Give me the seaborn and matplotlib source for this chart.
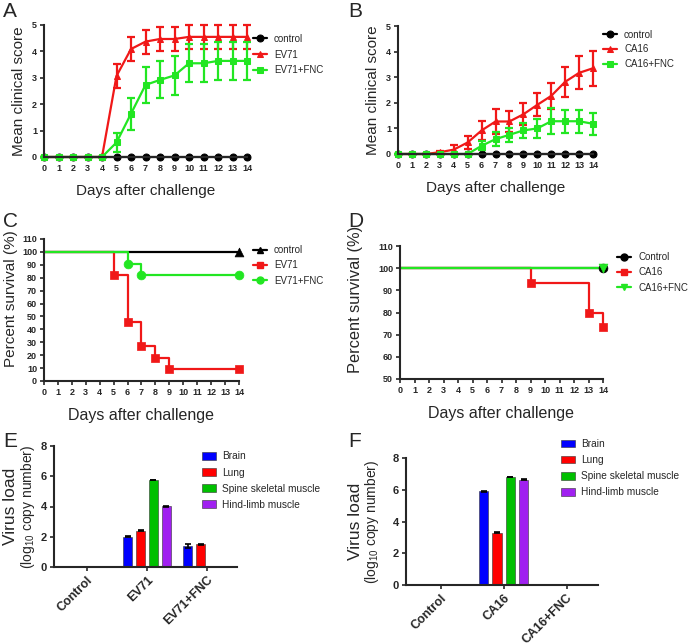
import matplotlib
matplotlib.use('Agg')
import matplotlib.pyplot as plt
import seaborn as sns
import pandas as pd

# ---- data ----
days = list(range(15))

# A : clinical score EV71
a_control = [0] * 15
a_ev71 = [0, 0, 0, 0, 0, 3.07, 4.09, 4.37, 4.47, 4.47, 4.55, 4.55, 4.55, 4.55, 4.55]
a_ev71_err = [0, 0, 0, 0, 0, 0.44, 0.46, 0.45, 0.47, 0.47, 0.46, 0.46, 0.46, 0.46, 0.46]
a_fnc = [0, 0, 0, 0, 0, 0.55, 1.64, 2.73, 2.92, 3.09, 3.55, 3.55, 3.64, 3.64, 3.64]
a_fnc_err = [0, 0, 0, 0, 0, 0.36, 0.6, 0.67, 0.7, 0.75, 0.72, 0.72, 0.72, 0.72, 0.72]

# B : clinical score CA16
b_control = [0] * 15
b_ca16 = [0, 0, 0, 0.07, 0.17, 0.45, 0.92, 1.27, 1.27, 1.55, 1.92, 2.27, 2.82, 3.17, 3.35]
b_ca16_err = [0, 0, 0, 0.05, 0.18, 0.26, 0.37, 0.5, 0.4, 0.43, 0.45, 0.5, 0.58, 0.65, 0.68]
b_fnc = [0, 0, 0, 0, 0, 0, 0.32, 0.58, 0.75, 0.92, 1.0, 1.28, 1.28, 1.28, 1.18]
b_fnc_err = [0, 0, 0, 0, 0, 0, 0.17, 0.27, 0.28, 0.3, 0.38, 0.5, 0.45, 0.45, 0.44]

# C : survival EV71
c_ctrl_t = [0, 14]
c_ctrl_s = [100, 100]
c_ev71_t = [0, 5, 6, 7, 8, 9, 14]
c_ev71_s = [100, 81.8, 45.5, 27.3, 18.2, 9.1, 9.1]
c_fnc_t = [0, 6, 7, 14]
c_fnc_s = [100, 90.9, 81.8, 81.8]

# D : survival CA16
d_ctrl_t = [0, 14]
d_ctrl_s = [100, 100]
d_ca16_t = [0, 9, 13, 14]
d_ca16_s = [100, 93.3, 80, 73.3]
d_fnc_t = [0, 14]
d_fnc_s = [100, 100]

# E / F : virus load
tissues = ['Brain', 'Lung', 'Spine skeletal muscle', 'Hind-limb muscle']
e_groups = ['Control', 'EV71', 'EV71+FNC']
e_vals = [[0, 0, 0, 0], [2.0, 2.4, 5.75, 4.03], [1.41, 1.5, 0, 0]]
e_errs = [[0, 0, 0, 0], [0.03, 0.03, 0.03, 0.03], [0.13, 0.05, 0, 0]]
f_groups = ['Control', 'CA16', 'CA16+FNC']
f_vals = [[0, 0, 0, 0], [5.9, 3.28, 6.78, 6.62], [0, 0, 0, 0]]
f_errs = [[0, 0, 0, 0], [0.03, 0.03, 0.0, 0.03], [0, 0, 0, 0]]

RED = '#f01818'
GREEN = '#22e622'
BAR_COLORS = ['#0000ff', '#ff0000', '#00c000', '#a020f0']

sns.set_style('ticks')
plt.rcParams['font.family'] = ['Liberation Sans', 'DejaVu Sans']
plt.rcParams['mathtext.fontset'] = 'custom'
plt.rcParams['mathtext.rm'] = 'Liberation Sans'

fig = plt.figure(figsize=(6.96, 6.44), dpi=100)
W, H = 696, 644


def add_ax(l, r, t, b):
    return fig.add_axes([l / W, 1 - b / H, (r - l) / W, (b - t) / H])


def style_ax(ax):
    sns.despine(ax=ax)
    for s in ['left', 'bottom']:
        ax.spines[s].set_linewidth(1.5)
    ax.tick_params(width=1.2, length=3, labelsize=6.5, pad=2)
    for lab in ax.get_xticklabels() + ax.get_yticklabels():
        lab.set_fontweight('bold')


def line_legend(ax, anchor, spacing):
    ax.legend(frameon=False, loc='upper left', bbox_to_anchor=anchor,
              fontsize=7, handlelength=1.5, handletextpad=0.7, labelspacing=spacing)


def score_panel(ax, series, ylabel, anchor, spacing):
    for y, err, color, marker, label in series:
        sns.lineplot(x=days, y=y, color=color, marker=marker, markersize=5,
                     markeredgecolor=color, lw=1.6, label=label, ax=ax, clip_on=False)
        if err is not None:
            ax.errorbar(days, y, yerr=err, fmt='none', ecolor=color, elinewidth=1.6,
                        capsize=3, capthick=1.6, clip_on=False)
    ax.set_xlim(0, 14)
    ax.set_ylim(0, 5)
    ax.set_xticks(days)
    ax.set_yticks(range(6))
    ax.set_xlabel('Days after challenge', fontsize=11, labelpad=8)
    ax.set_ylabel(ylabel, fontsize=11)
    line_legend(ax, anchor, spacing)
    style_ax(ax)


def surv_panel(ax, series, ylim, yticks, anchor, ylsize, ylpos):
    for t, s, color, marker, label in series:
        sns.lineplot(x=t, y=s, color=color, drawstyle='steps-post', lw=1.6,
                     ax=ax, clip_on=False)
        sns.scatterplot(x=t[1:], y=s[1:], color=color, marker=marker, s=40,
                        edgecolor=color, ax=ax, clip_on=False, zorder=3)
        ax.plot([], [], color=color, marker=marker, lw=1.6, markersize=5, label=label)
    ax.set_xlim(0, 14)
    ax.set_ylim(*ylim)
    ax.set_xticks(days)
    ax.set_yticks(yticks)
    ax.set_xlabel('Days after challenge', fontsize=11.5, labelpad=8)
    ax.set_ylabel('Percent survival (%)', fontsize=ylsize)
    ax.yaxis.set_label_coords(*ylpos)
    line_legend(ax, anchor, 0.55)
    style_ax(ax)


def bar_panel(ax, groups, vals, errs, legend_anchor, lab_x):
    df = pd.DataFrame([(g, t, vals[i][j]) for i, g in enumerate(groups)
                       for j, t in enumerate(tissues)], columns=['group', 'tissue', 'load'])
    sns.barplot(data=df, x='group', y='load', hue='tissue', palette=BAR_COLORS,
                saturation=1, width=0.85, gap=0.3, errorbar=None, ax=ax,
                edgecolor='#333333', linewidth=0.4)
    bar_conts = list(ax.containers)
    for j, cont in enumerate(bar_conts):
        for i, bar in enumerate(cont):
            if vals[i][j] > 0:
                ax.errorbar(bar.get_x() + bar.get_width() / 2, vals[i][j], yerr=errs[i][j],
                            fmt='none', ecolor='black', elinewidth=1.2, capsize=2.5,
                            capthick=1.2)
    ax.set_ylim(0, 8)
    ax.set_yticks([0, 2, 4, 6, 8])
    ax.set_xlim(-0.55, 2.5)
    ax.set_xlabel('')
    ax.set_ylabel('')
    ax.text(lab_x[0], 0.5, 'Virus load', transform=ax.transAxes, rotation=90,
            fontsize=12.5, ha='center', va='center')
    ax.text(lab_x[1], 0.5, '(log$_{10}$ copy number)', transform=ax.transAxes, rotation=90,
            fontsize=10, ha='center', va='center')
    ax.legend(frameon=False, loc='upper left', bbox_to_anchor=legend_anchor,
              fontsize=7.3, handlelength=1.4, handleheight=0.75, handletextpad=0.6,
              labelspacing=0.6)
    style_ax(ax)
    ax.tick_params(axis='y', labelsize=8)
    ax.tick_params(axis='x', labelsize=9)
    for lab in ax.get_xticklabels():
        lab.set_rotation(45)
        lab.set_ha('right')
        lab.set_rotation_mode('anchor')


axA = add_ax(44, 247, 25, 157)
score_panel(axA, [(a_control, None, 'black', 'o', 'control'),
                  (a_ev71, a_ev71_err, RED, '^', 'EV71'),
                  (a_fnc, a_fnc_err, GREEN, 's', 'EV71+FNC')], 'Mean clinical score',
            (0.985, 1.0), 0.6)

axB = add_ax(398, 593, 26, 154)
score_panel(axB, [(b_control, None, 'black', 'o', 'control'),
                  (b_ca16, b_ca16_err, RED, '^', 'CA16'),
                  (b_fnc, b_fnc_err, GREEN, 's', 'CA16+FNC')], 'Mean clinical score',
            (1.005, 1.04), 0.5)

axC = add_ax(44, 239, 239, 381)
surv_panel(axC, [(c_ctrl_t, c_ctrl_s, 'black', '^', 'control'),
                 (c_ev71_t, c_ev71_s, RED, 's', 'EV71'),
                 (c_fnc_t, c_fnc_s, GREEN, 'o', 'EV71+FNC')], (0, 110), range(0, 111, 10),
           (1.025, 1.02), 11, (-0.135, 0.58))

axD = add_ax(400, 603, 246, 379)
surv_panel(axD, [(d_ctrl_t, d_ctrl_s, 'black', 'o', 'Control'),
                 (d_ca16_t, d_ca16_s, RED, 's', 'CA16'),
                 (d_fnc_t, d_fnc_s, GREEN, 'v', 'CA16+FNC')], (50, 110), range(50, 111, 10),
           (1.025, 1.02), 11.8, (-0.18, 0.6))

axE = add_ax(54, 237, 446, 567)
bar_panel(axE, e_groups, e_vals, e_errs, (0.76, 1.03), (-0.235, -0.14))

axF = add_ax(406, 598, 458, 585)
bar_panel(axF, f_groups, f_vals, f_errs, (0.76, 1.22), (-0.265, -0.175))

for letter, x, y in [('A', 3, 2), ('B', 348, 2), ('C', 3, 212), ('D', 348, 212),
                     ('E', 3, 432), ('F', 348, 432)]:
    fig.text(x / W, 1 - y / H, letter, fontsize=15, va='top', ha='left')

fig.savefig('out.png', dpi=100)
